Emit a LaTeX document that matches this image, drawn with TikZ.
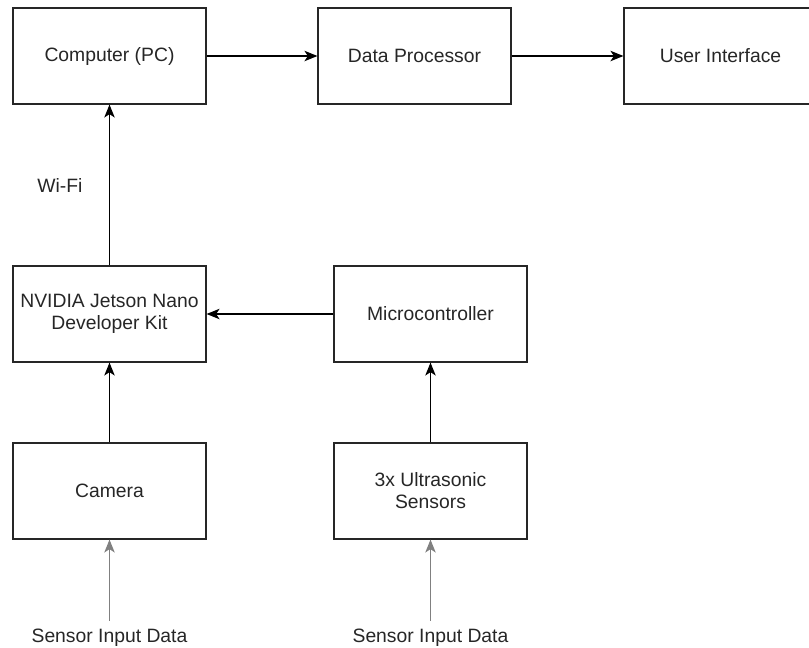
\documentclass[tikz,border=0pt]{standalone}
\usepackage{fontspec}
\setmainfont{Liberation Sans}
\usetikzlibrary{arrows.meta}

\begin{document}
\begin{tikzpicture}[x=0.02cm,y=-0.02cm,
	unit/.style={draw=black!85,line width=0.7pt,rectangle,minimum width=3.86cm,minimum height=1.92cm,inner sep=0pt,align=center,text=black!85,font=\fontsize{11}{12.5}\selectfont},
	tag/.style={inner sep=0pt,text=black!85,font=\fontsize{11}{12.5}\selectfont},
	flow/.style={draw=black,line width=0.7pt,-{Stealth[length=0.26cm,width=0.21cm,inset=0.07cm]}},
	feed/.style={flow,draw=black!50}]
	\useasboundingbox (0,0) rectangle (809,647);
	
	\node[unit] (pc) at (109.5,56) {Computer (PC)};
	\node[unit] (dp) at (414.5,56) {Data Processor};
	\node[unit] (ui) at (720.5,56) {User Interface};
	
	\node[unit] (jet) at (109.5,314) {NVIDIA Jetson Nano\\Developer Kit};
	\node[unit] (mcu) at (430.5,314) {Microcontroller};
	
	\node[unit] (cam) at (109.5,491) {Camera};
	\node[unit] (sonar) at (430.5,491) {3x Ultrasonic\\Sensors};
	
	\node[tag] (in1) at (109.5,638) {Sensor Input Data};
	\node[tag] (in2) at (430.5,638) {Sensor Input Data};
	
	\draw[flow](pc)--(dp);
	\draw[flow](dp)--(ui);
	\draw[flow](jet)-- node[tag,left=0.53cm] (wifi) {Wi-Fi} (pc);
	\draw[flow](mcu)--(jet);
	\draw[flow](cam)--(jet);
	\draw[flow](sonar)--(mcu);
	\draw[feed,shorten <=0.16cm](in1)--(cam);
	\draw[feed,shorten <=0.16cm](in2)--(sonar);
	
\end{tikzpicture}
\end{document}
